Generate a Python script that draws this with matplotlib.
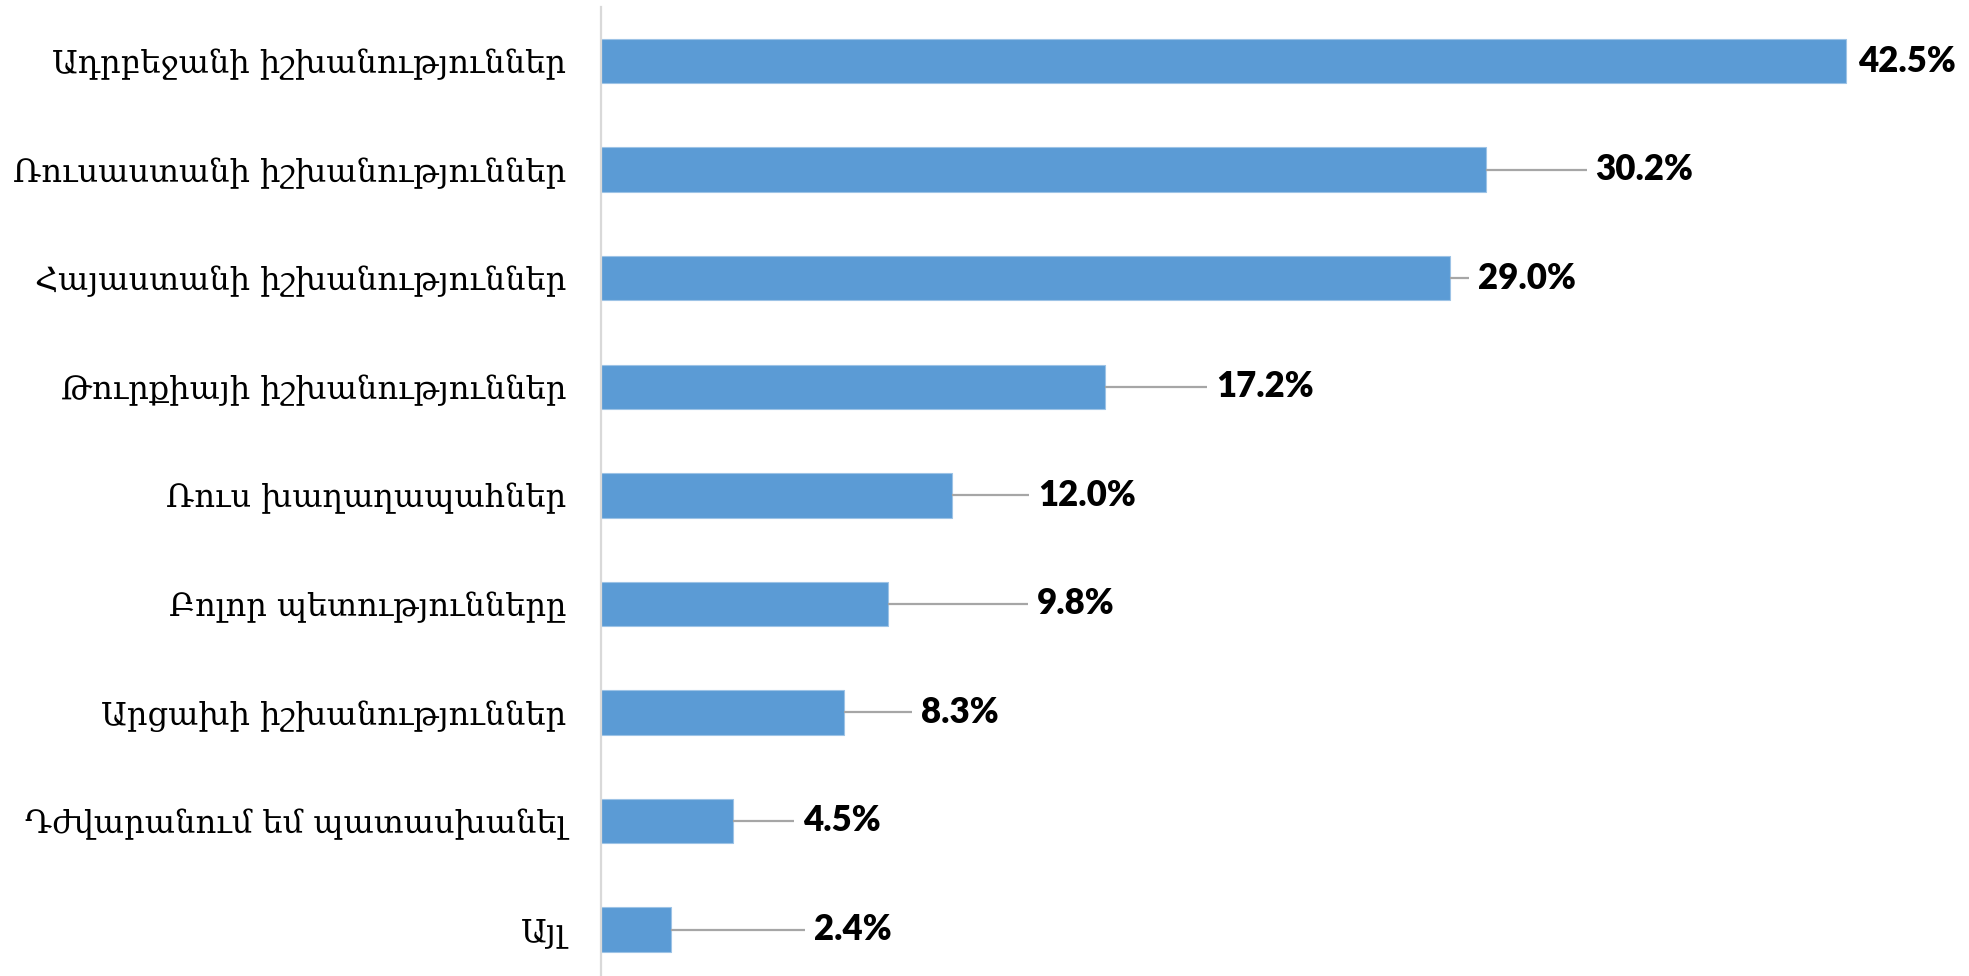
import matplotlib.pyplot as plt

# categories, top to bottom
categories = [
    "Ադրբեջանի իշխանություններ",
    "Ռուսաստանի իշխանություններ",
    "Հայաստանի իշխանություններ",
    "Թուրքիայի իշխանություններ",
    "Ռուս խաղաղապահներ",
    "Բոլոր պետությունները",
    "Արցախի իշխանություններ",
    "Դժվարանում եմ պատասխանել",
    "Այլ",
]
values = [42.5, 30.2, 29.0, 17.2, 12.0, 9.8, 8.3, 4.5, 2.4]
value_labels = ["42.5%", "30.2%", "29.0%", "17.2%", "12.0%", "9.8%", "8.3%", "4.5%", "2.4%"]

# where each value label was dragged to (in % axis units)
label_x = [42.9, 33.95, 29.93, 21.0, 14.92, 14.88, 10.93, 6.9, 7.28]

bar_color = "#5B9BD5"
line_color = "#A6A6A6"

fig = plt.figure(figsize=(19.69, 9.76), dpi=100)
ax = fig.add_axes([0.3052, -0.008, 0.6948, 1.001])

y = list(range(len(categories)))
ax.barh(y, values, height=0.41, color=bar_color, edgecolor="#9DC3E6", linewidth=0.8)

for yi, v, lx, txt in zip(y, values, label_x, value_labels):
    if lx - v > 0.6:
        ax.plot([v, lx - 0.3], [yi, yi], color=line_color, lw=1.6, solid_capstyle="butt")
    ax.text(lx, yi, txt, ha="left", va="center", fontsize=25, fontweight="heavy",
            family="Lato", color="black")

ax.set_xlim(0, 46.7)
ax.set_ylim(len(categories) - 0.5, -0.5)
ax.set_yticks(y)
ax.set_yticklabels(categories, family="DejaVu Serif", fontsize=23)
ax.tick_params(axis="y", length=0, pad=25)
ax.set_xticks([])
for s in ["top", "right", "bottom"]:
    ax.spines[s].set_visible(False)
ax.spines["left"].set_color("#D9D9D9")
ax.spines["left"].set_linewidth(1.6)

fig.savefig("out.png", dpi=100)
